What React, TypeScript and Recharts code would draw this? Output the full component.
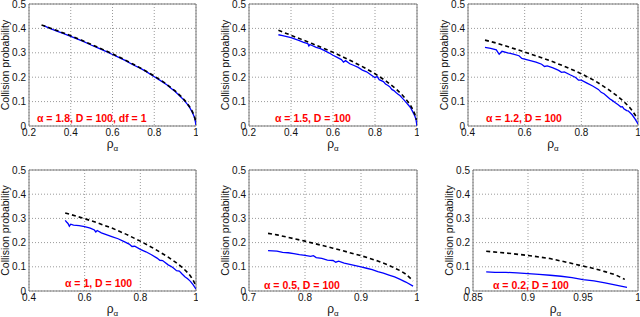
import { CartesianGrid, Line, LineChart, ReferenceArea, XAxis, YAxis } from "recharts";

type Pair = [number, number];

// theory (dashed) and simulation (blue) curves: [rho, collision prob]
const theory18: Pair[] = [[0.26, 0.414], [0.3, 0.402], [0.35, 0.386], [0.4, 0.37], [0.45, 0.352], [0.5, 0.334], [0.55, 0.315], [0.6, 0.296], [0.65, 0.275], [0.7, 0.253], [0.75, 0.23], [0.8, 0.205], [0.85, 0.177], [0.9, 0.144], [0.93, 0.12], [0.95, 0.101], [0.97, 0.078], [0.98, 0.064], [0.99, 0.045], [0.995, 0.032], [0.999, 0.014]];
const sim18: Pair[] = [[0.27, 0.411], [0.3, 0.4], [0.33, 0.39], [0.36, 0.381], [0.4, 0.367], [0.43, 0.357], [0.46, 0.347], [0.5, 0.331], [0.53, 0.32], [0.56, 0.309], [0.6, 0.293], [0.63, 0.281], [0.66, 0.269], [0.7, 0.25], [0.73, 0.238], [0.76, 0.224], [0.8, 0.202], [0.83, 0.186], [0.86, 0.169], [0.88, 0.155], [0.9, 0.141], [0.92, 0.125], [0.94, 0.108], [0.96, 0.088], [0.97, 0.075], [0.98, 0.06], [0.99, 0.041], [0.995, 0.027], [1.0, 0.004]];

const theory15: Pair[] = [[0.34, 0.392], [0.4, 0.372], [0.45, 0.355], [0.5, 0.338], [0.55, 0.32], [0.6, 0.302], [0.65, 0.282], [0.7, 0.261], [0.75, 0.239], [0.8, 0.214], [0.85, 0.186], [0.9, 0.152], [0.93, 0.127], [0.95, 0.107], [0.97, 0.083], [0.98, 0.068], [0.99, 0.048], [0.997, 0.025]];
const sim15: Pair[] = [[0.34, 0.374], [0.36, 0.37], [0.38, 0.366], [0.4, 0.362], [0.42, 0.356], [0.44, 0.35], [0.46, 0.343], [0.48, 0.338], [0.485, 0.328], [0.49, 0.334], [0.5, 0.33], [0.52, 0.322], [0.54, 0.317], [0.56, 0.309], [0.58, 0.3], [0.6, 0.29], [0.62, 0.281], [0.64, 0.272], [0.65, 0.262], [0.66, 0.268], [0.68, 0.255], [0.7, 0.248], [0.72, 0.24], [0.74, 0.229], [0.76, 0.222], [0.78, 0.21], [0.8, 0.198], [0.81, 0.203], [0.82, 0.19], [0.84, 0.182], [0.85, 0.172], [0.86, 0.167], [0.87, 0.161], [0.88, 0.15], [0.89, 0.145], [0.9, 0.137], [0.91, 0.13], [0.92, 0.124], [0.93, 0.114], [0.94, 0.105], [0.95, 0.095], [0.96, 0.085], [0.97, 0.074], [0.98, 0.058], [0.99, 0.04], [0.995, 0.027], [1.0, 0.0]];

const theory12: Pair[] = [[0.46, 0.352], [0.5, 0.34], [0.55, 0.322], [0.6, 0.303], [0.65, 0.284], [0.7, 0.263], [0.75, 0.24], [0.8, 0.214], [0.85, 0.184], [0.9, 0.146], [0.93, 0.12], [0.95, 0.1], [0.97, 0.077], [0.98, 0.062], [0.99, 0.045], [0.997, 0.028]];
const sim12: Pair[] = [[0.46, 0.322], [0.48, 0.318], [0.5, 0.312], [0.505, 0.303], [0.51, 0.294], [0.515, 0.3], [0.52, 0.306], [0.54, 0.3], [0.56, 0.295], [0.58, 0.288], [0.59, 0.277], [0.6, 0.274], [0.62, 0.268], [0.64, 0.262], [0.66, 0.253], [0.67, 0.244], [0.68, 0.246], [0.7, 0.238], [0.72, 0.228], [0.73, 0.22], [0.74, 0.222], [0.76, 0.21], [0.78, 0.199], [0.79, 0.188], [0.8, 0.188], [0.82, 0.176], [0.84, 0.164], [0.86, 0.15], [0.87, 0.138], [0.88, 0.132], [0.89, 0.122], [0.9, 0.112], [0.91, 0.104], [0.92, 0.095], [0.93, 0.087], [0.94, 0.078], [0.945, 0.079], [0.95, 0.071], [0.96, 0.063], [0.965, 0.062], [0.975, 0.051], [0.98, 0.045], [0.99, 0.028], [1.0, 0.008]];

const theory10: Pair[] = [[0.53, 0.322], [0.55, 0.316], [0.6, 0.299], [0.65, 0.28], [0.7, 0.259], [0.75, 0.234], [0.8, 0.206], [0.85, 0.175], [0.9, 0.14], [0.93, 0.116], [0.95, 0.098], [0.97, 0.076], [0.98, 0.062], [0.99, 0.044], [0.997, 0.028]];
const sim10: Pair[] = [[0.53, 0.292], [0.535, 0.285], [0.54, 0.279], [0.545, 0.268], [0.55, 0.276], [0.56, 0.272], [0.58, 0.27], [0.6, 0.266], [0.62, 0.26], [0.635, 0.252], [0.64, 0.244], [0.645, 0.25], [0.66, 0.24], [0.68, 0.232], [0.7, 0.224], [0.72, 0.216], [0.74, 0.205], [0.76, 0.194], [0.77, 0.184], [0.78, 0.185], [0.8, 0.172], [0.82, 0.162], [0.84, 0.15], [0.86, 0.136], [0.87, 0.127], [0.88, 0.126], [0.9, 0.108], [0.91, 0.102], [0.92, 0.094], [0.93, 0.084], [0.94, 0.082], [0.95, 0.07], [0.96, 0.059], [0.97, 0.051], [0.98, 0.04], [0.99, 0.025], [1.0, 0.008]];

const theory05: Pair[] = [[0.734, 0.238], [0.75, 0.232], [0.8, 0.206], [0.85, 0.177], [0.9, 0.146], [0.93, 0.124], [0.95, 0.106], [0.97, 0.084], [0.98, 0.07], [0.993, 0.042]];
const sim05: Pair[] = [[0.734, 0.167], [0.75, 0.165], [0.76, 0.16], [0.77, 0.158], [0.78, 0.154], [0.79, 0.15], [0.8, 0.147], [0.81, 0.143], [0.815, 0.146], [0.82, 0.138], [0.83, 0.135], [0.84, 0.128], [0.85, 0.126], [0.855, 0.119], [0.86, 0.123], [0.87, 0.115], [0.88, 0.11], [0.89, 0.105], [0.9, 0.1], [0.91, 0.094], [0.92, 0.088], [0.93, 0.08], [0.94, 0.074], [0.95, 0.066], [0.96, 0.058], [0.97, 0.048], [0.98, 0.037], [0.993, 0.02]];

const theory02: Pair[] = [[0.862, 0.164], [0.88, 0.157], [0.9, 0.147], [0.92, 0.134], [0.94, 0.114], [0.95, 0.103], [0.96, 0.093], [0.97, 0.08], [0.98, 0.066], [0.988, 0.048]];
const sim02: Pair[] = [[0.862, 0.079], [0.87, 0.077], [0.88, 0.077], [0.89, 0.075], [0.9, 0.072], [0.91, 0.069], [0.92, 0.065], [0.93, 0.061], [0.94, 0.055], [0.95, 0.047], [0.96, 0.042], [0.97, 0.034], [0.98, 0.024], [0.99, 0.015]];

const notes = ["α = 1.8, D = 100, df = 1", "α = 1.5, D = 100", "α = 1.2, D = 100", "α = 1, D = 100", "α = 0.5, D = 100", "α = 0.2, D = 100"];
const ticksWide = [0.2, 0.4, 0.6, 0.8, 1];
const ticksMid = [0.4, 0.6, 0.8, 1];
const ticks07 = [0.7, 0.8, 0.9, 1];
const ticks085 = [0.85, 0.9, 0.95, 1];
const yTicks = [0, 0.1, 0.2, 0.3, 0.4, 0.5];

const FONT = "'Liberation Sans', Arial, Helvetica, sans-serif";
const YW = 30;
const XH = 30;
const MT = 4;
const MR = 2;

const toPts = (pairs: Pair[]) => pairs.map(([x, y]) => ({ x, y }));

interface Frame { l: number; t: number; r: number; b: number; nx: number; ny: number }

interface PanelProps {
  frame: Frame;
  ticks: number[];
  theory: Pair[];
  sim: Pair[];
  note: string;
}

function Panel({ frame, ticks, theory, sim, note }: PanelProps) {
  const plotW = frame.r - frame.l;
  const plotH = frame.b - frame.t;
  const left = frame.l - YW;
  const top = frame.t - MT;
  const domain: [number, number] = [ticks[0], ticks[ticks.length - 1]];

  const xLabel = () => (
    <text x={YW + plotW / 2} y={MT + plotH + 22} textAnchor="middle" fontFamily={FONT} fontSize={12} fill="#111">
      ρ<tspan fontSize={8} dy={3}>α</tspan>
    </text>
  );
  const yLabel = () => (
    <text
      x={10}
      y={MT + plotH / 2}
      transform={`rotate(-90 10 ${MT + plotH / 2})`}
      textAnchor="middle"
      fontFamily={FONT}
      fontSize={10.5}
      fill="#111"
    >
      Collision probability
    </text>
  );

  return (
    <div style={{ position: "absolute", left, top }}>
      <LineChart width={YW + plotW + MR} height={MT + plotH + XH} margin={{ top: MT, right: MR, bottom: 0, left: 0 }}>
        <CartesianGrid stroke="#9a9a9a" strokeDasharray="1 2" />
        <XAxis
          type="number"
          dataKey="x"
          domain={domain}
          ticks={ticks}
          interval={0}
          allowDataOverflow
          height={XH}
          axisLine={false}
          tickLine={false}
          tickSize={2}
          tickMargin={1}
          tick={{ fontSize: 10, fill: "#111", fontFamily: FONT }}
          tickFormatter={(v: number) => String(v)}
          label={xLabel}
        />
        <YAxis
          type="number"
          domain={[0, 0.5]}
          ticks={yTicks}
          interval={0}
          width={YW}
          axisLine={false}
          tickLine={false}
          tickSize={2}
          tickMargin={1}
          tick={{ fontSize: 10, fill: "#111", fontFamily: FONT }}
          tickFormatter={(v: number) => String(v)}
          label={yLabel}
        />
        <ReferenceArea x1={domain[0]} x2={domain[1]} y1={0} y2={0.5} fill="none" stroke="#7a7a7a" strokeWidth={1} />
        <Line data={toPts(sim)} dataKey="y" type="linear" stroke="#0000ff" strokeWidth={1.3} dot={false} isAnimationActive={false} />
        <Line data={toPts(theory)} dataKey="y" type="linear" stroke="#000" strokeWidth={1.6} strokeDasharray="4 3" dot={false} isAnimationActive={false} />
      </LineChart>
      <div
        style={{
          position: "absolute",
          left: frame.nx - left,
          top: frame.ny - 6 - top,
          fontFamily: FONT,
          fontSize: 10.5,
          lineHeight: "12px",
          fontWeight: "bold",
          color: "#ff0000",
          whiteSpace: "nowrap",
        }}
      >
        {note}
      </div>
    </div>
  );
}

const frames: Frame[] = [
  { l: 29, t: 4, r: 196, b: 126, nx: 37, ny: 118 },
  { l: 249, t: 4, r: 417, b: 126, nx: 275, ny: 118 },
  { l: 468, t: 4, r: 638, b: 126, nx: 486, ny: 118 },
  { l: 29, t: 170, r: 196, b: 291, nx: 65, ny: 283 },
  { l: 249, t: 170, r: 417, b: 291, nx: 264, ny: 285 },
  { l: 473, t: 170, r: 638, b: 291, nx: 493, ny: 285 },
];

export default function App() {
  return (
    <div style={{ position: "absolute", left: 0, top: 0, width: 640, height: 317, background: "#fff", overflow: "hidden" }}>
      <Panel frame={frames[0]} ticks={ticksWide} theory={theory18} sim={sim18} note={notes[0]} />
      <Panel frame={frames[1]} ticks={ticksWide} theory={theory15} sim={sim15} note={notes[1]} />
      <Panel frame={frames[2]} ticks={ticksMid} theory={theory12} sim={sim12} note={notes[2]} />
      <Panel frame={frames[3]} ticks={ticksMid} theory={theory10} sim={sim10} note={notes[3]} />
      <Panel frame={frames[4]} ticks={ticks07} theory={theory05} sim={sim05} note={notes[4]} />
      <Panel frame={frames[5]} ticks={ticks085} theory={theory02} sim={sim02} note={notes[5]} />
    </div>
  );
}
